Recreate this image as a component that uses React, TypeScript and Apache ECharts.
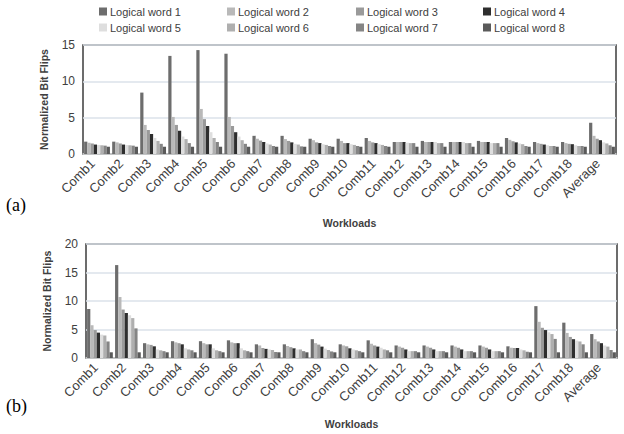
import React, { useEffect, useRef } from "react";
import * as echarts from "echarts";

const categories = [
  "Comb1", "Comb2", "Comb3", "Comb4", "Comb5", "Comb6", "Comb7", "Comb8", "Comb9",
  "Comb10", "Comb11", "Comb12", "Comb13", "Comb14", "Comb15", "Comb16", "Comb17",
  "Comb18", "Average",
];
const seriesNames = [
  "Logical word 1", "Logical word 2", "Logical word 3", "Logical word 4",
  "Logical word 5", "Logical word 6", "Logical word 7", "Logical word 8",
];
const colors = ["#6d6d6d", "#b9b9b9", "#9a9a9a", "#2e2e2e", "#dedede", "#afafaf", "#858585", "#5a5a5a"];
const yTicksA = [0, 15];
const yTicksB = [0, 20];

// Panel (a)
const aWord1 = [1.7, 1.7, 8.45, 13.5, 14.3, 13.8, 2.5, 2.5, 2.1, 2.1, 2.2, 1.65, 1.8, 1.65, 1.8, 2.2, 1.65, 1.65, 4.3];
const aWord2 = [1.55, 1.6, 4.0, 5.1, 6.2, 5.1, 2.1, 2.05, 1.9, 1.8, 1.8, 1.65, 1.65, 1.65, 1.65, 1.95, 1.5, 1.5, 2.5];
const aWord3 = [1.45, 1.45, 3.3, 4.0, 4.8, 3.85, 1.85, 1.8, 1.6, 1.5, 1.6, 1.65, 1.65, 1.65, 1.65, 1.75, 1.4, 1.4, 2.1];
const aWord4 = [1.3, 1.3, 2.75, 3.2, 3.85, 3.0, 1.65, 1.6, 1.5, 1.5, 1.5, 1.65, 1.65, 1.65, 1.65, 1.6, 1.3, 1.35, 1.9];
const aWord5 = [1.25, 1.25, 2.2, 2.4, 3.0, 2.4, 1.45, 1.4, 1.35, 1.35, 1.35, 1.55, 1.65, 1.65, 1.5, 1.45, 1.2, 1.2, 1.6];
const aWord6 = [1.2, 1.2, 1.8, 2.05, 2.2, 1.9, 1.3, 1.3, 1.25, 1.25, 1.25, 1.5, 1.5, 1.5, 1.5, 1.35, 1.1, 1.1, 1.45];
const aWord7 = [1.15, 1.15, 1.4, 1.5, 1.65, 1.4, 1.1, 1.05, 1.1, 1.1, 1.1, 1.5, 1.5, 1.5, 1.5, 1.1, 1.1, 1.1, 1.2];
const aWord8 = [1.0, 1.0, 1.0, 1.0, 1.0, 1.0, 1.0, 1.0, 1.0, 1.0, 1.0, 1.0, 1.0, 1.0, 1.0, 1.0, 1.0, 1.0, 1.0];

// Panel (b)
const bWord1 = [8.6, 16.3, 2.6, 2.95, 2.95, 3.1, 2.4, 2.4, 3.3, 2.4, 3.1, 2.2, 2.2, 2.2, 2.2, 2.05, 9.1, 6.2, 4.2];
const bWord2 = [5.75, 10.7, 2.4, 2.75, 2.6, 2.75, 2.2, 2.1, 2.6, 2.2, 2.5, 2.0, 2.0, 2.0, 2.0, 1.8, 6.35, 4.4, 3.3];
const bWord3 = [4.9, 8.5, 2.3, 2.6, 2.4, 2.6, 1.75, 1.9, 2.35, 2.05, 2.2, 1.8, 1.8, 1.8, 1.8, 1.75, 5.3, 3.7, 2.9];
const bWord4 = [4.45, 7.9, 2.05, 2.4, 2.4, 2.6, 1.6, 1.7, 2.0, 1.7, 2.0, 1.5, 1.5, 1.5, 1.5, 1.75, 4.9, 3.3, 2.6];
const bWord5 = [4.1, 7.5, 1.5, 1.7, 1.7, 1.7, 1.5, 1.5, 1.65, 1.5, 1.8, 1.2, 1.2, 1.2, 1.2, 1.5, 4.5, 3.05, 2.2];
const bWord6 = [3.95, 7.0, 1.35, 1.5, 1.35, 1.35, 1.4, 1.5, 1.4, 1.35, 1.5, 1.2, 1.2, 1.2, 1.2, 1.35, 4.2, 2.9, 2.0];
const bWord7 = [2.9, 5.2, 1.2, 1.35, 1.2, 1.2, 1.05, 1.2, 1.15, 1.2, 1.35, 1.2, 1.2, 1.2, 1.2, 1.1, 3.35, 2.4, 1.4];
const bWord8 = [1.0, 1.0, 1.0, 1.0, 1.0, 1.0, 1.0, 1.0, 1.0, 1.0, 1.0, 1.0, 1.0, 1.0, 1.0, 1.0, 1.0, 1.0, 1.0];

const panelA = [aWord1, aWord2, aWord3, aWord4, aWord5, aWord6, aWord7, aWord8];
const panelB = [bWord1, bWord2, bWord3, bWord4, bWord5, bWord6, bWord7, bWord8];

const FONT = "Liberation Sans";
const legendLefts = [99, 227, 356, 483];
const legendTops = [6, 22];

function buildOption(panel: number[][], yRange: number[], grid: any, nameGap: number, tag: string, tagTop: number, withLegend: boolean) {
  const series = panel.map((vals, i) => ({
    type: "bar",
    name: seriesNames[i],
    data: vals,
    barGap: "0%",
    barCategoryGap: "8%",
    itemStyle: { color: colors[i] },
  }));
  const legends = withLegend
    ? seriesNames.map((n, i) => ({
        data: [n],
        left: legendLefts[i % 4],
        top: legendTops[Math.floor(i / 4)],
        icon: "rect",
        itemWidth: 8,
        itemHeight: 8,
        itemGap: 3,
        padding: 0,
        selectedMode: false,
        textStyle: { fontSize: 11, color: "#404040", fontFamily: FONT, padding: [0, 0, 0, -2] },
      }))
    : [];
  return {
    animation: false,
    backgroundColor: "#ffffff",
    color: colors,
    legend: legends,
    grid: { ...grid, show: true, borderColor: "#3c3c3c", borderWidth: 1.5, backgroundColor: "transparent" },
    xAxis: {
      type: "category",
      data: categories,
      axisTick: { show: false },
      axisLine: { lineStyle: { color: "#c4c4c4", width: 1.5 } },
      axisLabel: {
        rotate: 45, interval: 0, fontSize: 13, color: "#404040", fontFamily: FONT,
        margin: 3, padding: [0, 6, 0, 0],
      },
      name: "Workloads",
      nameLocation: "middle",
      nameGap,
      nameMoveOverlap: false,
      nameTextStyle: { fontWeight: "bold", fontSize: 10.5, color: "#404040", fontFamily: FONT },
    },
    yAxis: {
      type: "value",
      min: yRange[0],
      max: yRange[1],
      interval: 5,
      axisLine: { show: false },
      axisTick: { show: false },
      splitLine: { lineStyle: { color: "#dbe2ea", width: 1.5 } },
      axisLabel: { fontSize: 12, color: "#404040", fontFamily: FONT, margin: 8 },
      name: "Normalized Bit Flips",
      nameLocation: "middle",
      nameGap: 34,
      nameTextStyle: { fontWeight: "bold", fontSize: 10.5, color: "#404040", fontFamily: FONT },
    },
    series,
    graphic: [
      { type: "text", left: 6, top: tagTop, style: { text: tag, fontSize: 18, fontFamily: "Liberation Serif", fill: "#000" } },
    ],
  };
}

export default function App() {
  const refA = useRef<HTMLDivElement>(null);
  const refB = useRef<HTMLDivElement>(null);
  useEffect(() => {
    if (!refA.current || !refB.current) return;
    const chartA = echarts.init(refA.current, null, { renderer: "svg" });
    const chartB = echarts.init(refB.current, null, { renderer: "svg" });
    chartA.setOption(buildOption(panelA, yTicksA, { left: 83, top: 45, width: 533, height: 109 }, 63, "(a)", 196, true));
    chartB.setOption(buildOption(panelB, yTicksB, { left: 86, top: 14, width: 531, height: 114 }, 60, "(b)", 167, false));
    return () => {
      chartA.dispose();
      chartB.dispose();
    };
  }, []);
  return (
    <div style={{ position: "fixed", left: 0, top: 0, width: 624, height: 434, background: "#fff" }}>
      <div ref={refA} style={{ position: "absolute", left: 0, top: 0, width: 624, height: 230 }} />
      <div ref={refB} style={{ position: "absolute", left: 0, top: 230, width: 624, height: 204 }} />
    </div>
  );
}
